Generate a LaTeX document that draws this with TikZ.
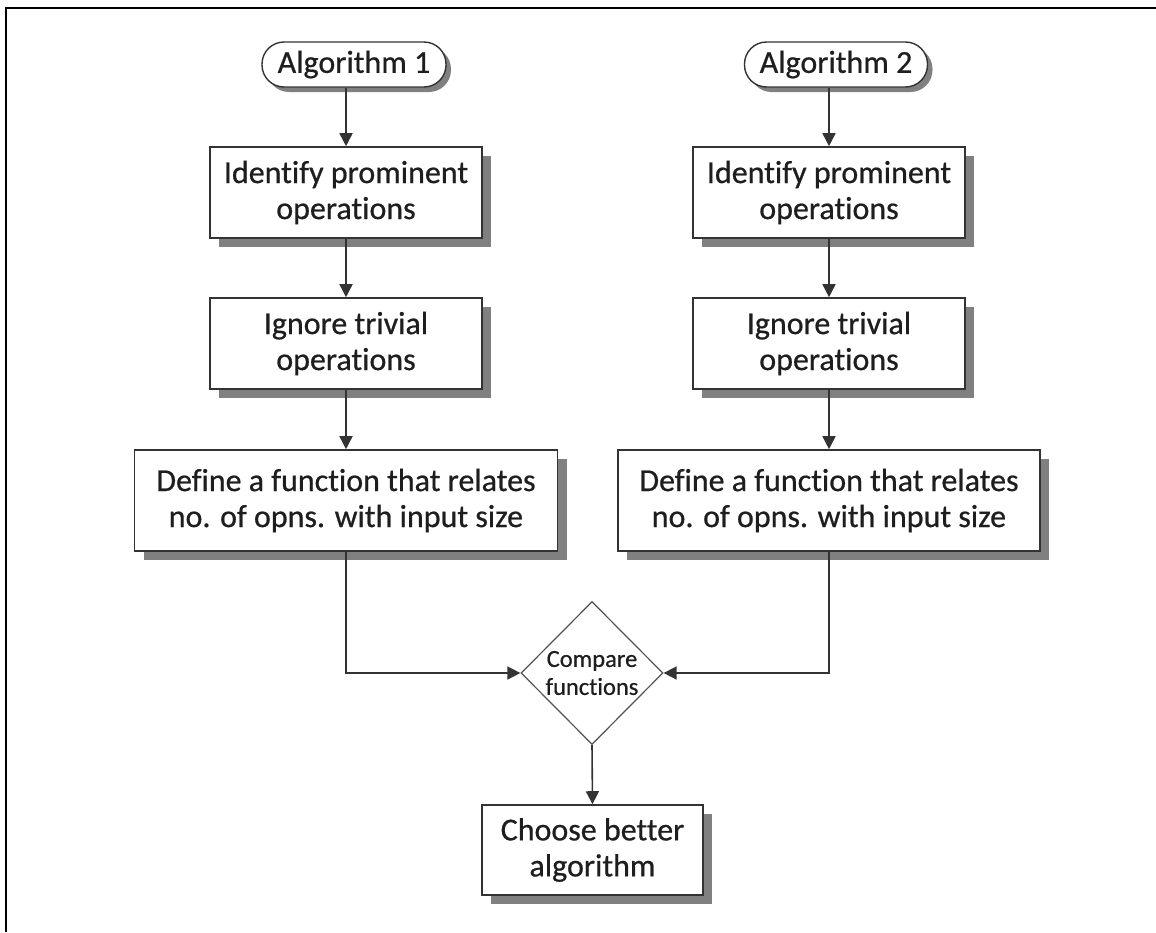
\documentclass[tikz,border=0pt]{standalone}
\usepackage{fontspec}
\setmainfont{Carlito}[Ligatures=NoCommon, RawFeature={embolden=0.6}]
\usetikzlibrary{shapes.geometric,shadows,arrows.meta}
\definecolor{linegray}{HTML}{333333}
\definecolor{shadowgray}{HTML}{808080}
\definecolor{textgray}{HTML}{1E1E1E}
\begin{document}
\begin{tikzpicture}[x=1pt,y=-1pt,
  every node/.style={text=textgray, align=center, inner sep=0pt},
  boxshadow/.style={drop shadow={shadow xshift=9pt, shadow yshift=-9pt, fill=shadowgray, opacity=1}},
  pillshadow/.style={drop shadow={shadow xshift=5pt, shadow yshift=-5pt, fill=shadowgray, opacity=1}},
  stepbox/.style={draw=linegray, line width=1.6pt, fill=white,
    font=\fontsize{32}{36}\selectfont, boxshadow},
  startpill/.style={draw=linegray, line width=1.4pt, fill=white, rounded corners=22pt,
    minimum height=45pt, font=\fontsize{32}{36}\selectfont, pillshadow},
  decision/.style={diamond, draw=linegray!85, line width=1.2pt, fill=white,
    minimum width=142pt, minimum height=143pt, font=\fontsize{24.5}{28}\selectfont},
  connector/.style={draw=linegray, line width=1.6pt, -{Triangle[length=13pt,width=13pt]}},
  frameline/.style={draw=black, line width=2pt}
]
\useasboundingbox (0,0) rectangle (1156,932);

% page frame (top and left edges)
\draw[frameline] (6,932) -- (6,8) -- (1156,8);

% left column
\node[startpill, minimum width=184pt] (a1) at (354,64.5) {Algorithm 1};
\node[stepbox, minimum width=272pt, minimum height=91pt] (i1) at (346,192.5) {Identify prominent\\operations};
\node[stepbox, minimum width=272pt, minimum height=91pt] (g1) at (346,343.5) {Ignore trivial\\operations};
\node[stepbox, minimum width=423pt, minimum height=101pt] (d1) at (346,500.5) {Define a function that relates\\no. of opns. with input size};

% right column
\node[startpill, minimum width=183pt] (a2) at (836,64.5) {Algorithm 2};
\node[stepbox, minimum width=272pt, minimum height=91pt] (i2) at (829,192.5) {Identify prominent\\operations};
\node[stepbox, minimum width=272pt, minimum height=91pt] (g2) at (829,343.5) {Ignore trivial\\operations};
\node[stepbox, minimum width=422pt, minimum height=101pt] (d2) at (829,500.5) {Define a function that relates\\no. of opns. with input size};

% merge and result
\node[decision] (cmp) at (592,673) {Compare\\functions};
\node[stepbox, minimum width=221pt, minimum height=90pt] (ch) at (592.5,850) {Choose better\\algorithm};

% connectors
\draw[connector] (i1.north |- a1.south) -- (i1.north);
\draw[connector] (i1.south) -- (g1.north);
\draw[connector] (g1.south) -- (d1.north);
\draw[connector] (i2.north |- a2.south) -- (i2.north);
\draw[connector] (i2.south) -- (g2.north);
\draw[connector] (g2.south) -- (d2.north);
\draw[connector] (d1.south) -- (d1.south |- cmp.west) -- (cmp.west);
\draw[connector] (d2.south) -- (d2.south |- cmp.east) -- (cmp.east);
\draw[connector] (cmp.south) -- (ch.north);
\end{tikzpicture}
\end{document}
